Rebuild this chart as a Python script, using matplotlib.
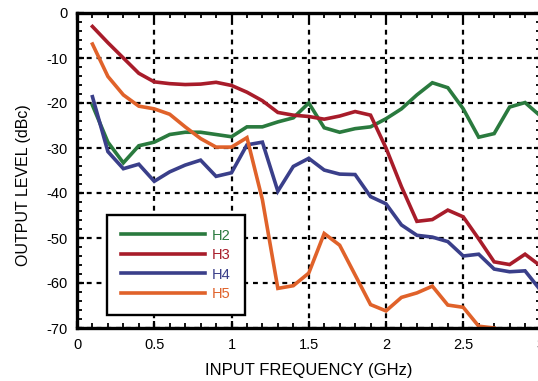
import matplotlib
matplotlib.use("Agg")
import matplotlib.pyplot as plt
from matplotlib.ticker import MultipleLocator

plt.rcParams['font.family'] = ['Liberation Sans', 'DejaVu Sans']
plt.rcParams['axes.unicode_minus'] = False

freq = [0.1, 0.2, 0.3, 0.4, 0.5, 0.6, 0.7, 0.8, 0.9, 1.0,
        1.1, 1.2, 1.3, 1.4, 1.5, 1.6, 1.7, 1.8, 1.9, 2.0,
        2.1, 2.2, 2.3, 2.4, 2.5, 2.6, 2.7, 2.8, 2.9, 3.0]

h2 = [-20.5, -28.7, -33.3, -29.5, -28.7, -27.0, -26.5, -26.5, -27.0, -27.5,
      -25.3, -25.3, -24.2, -23.3, -20.0, -25.5, -26.5, -25.7, -25.3, -23.5,
      -21.3, -18.2, -15.5, -16.6, -21.3, -27.6, -26.8, -20.9, -19.9, -22.9]

h3 = [-3.0, -6.6, -10.0, -13.4, -15.3, -15.7, -15.9, -15.8, -15.4, -16.1,
      -17.6, -19.5, -22.1, -22.7, -23.0, -23.6, -22.9, -21.9, -22.7, -30.0,
      -38.6, -46.3, -45.9, -43.8, -45.3, -50.2, -55.3, -55.9, -53.6, -56.2]

h4 = [-18.6, -30.8, -34.6, -33.6, -37.4, -35.3, -33.8, -32.7, -36.3, -35.5,
      -29.3, -28.7, -39.6, -34.1, -32.3, -34.9, -35.8, -35.9, -40.8, -42.4,
      -47.1, -49.4, -49.8, -50.8, -54.0, -53.6, -56.9, -57.5, -57.3, -61.6]

h5_freq = freq[:27]
h5 = [-6.9, -14.1, -18.2, -20.7, -21.3, -22.5, -25.3, -27.9, -29.8, -29.8,
      -27.7, -41.5, -61.2, -60.6, -57.8, -49.0, -51.6, -58.2, -64.8, -66.2,
      -63.2, -62.2, -60.7, -64.9, -65.4, -69.6, -70.0]

series_labels = ['H2', 'H3', 'H4', 'H5']
colors = ['#2a7a3e', '#a81c2a', '#3a3f8a', '#e0622a']

xticks = [0, 0.5, 1, 1.5, 2, 2.5, 3]
xtick_labels = ['0', '0.5', '1', '1.5', '2', '2.5', '3']
yticks = [0, -10, -20, -30, -40, -50, -60, -70]

fig = plt.figure(figsize=(5.38, 3.81), dpi=100)
ax = fig.add_axes([77/538, 53/381, 463.5/538, 315/381])

data = [(freq, h2), (freq, h3), (freq, h4), (h5_freq, h5)]
for (xs, ys), lab, c in zip(data, series_labels, colors):
    ax.plot(xs, ys, color=c, lw=2.6, label=lab, zorder=3,
            solid_joinstyle='miter')

ax.set_xlim(0, 3)
ax.set_ylim(-70, 0)
ax.set_xticks(xticks)
ax.set_xticklabels(xtick_labels)
ax.set_yticks(yticks)
ax.xaxis.set_minor_locator(MultipleLocator(0.1))
ax.yaxis.set_minor_locator(MultipleLocator(2))

ax.grid(True, which='major', color='black', linestyle=(0, (2.2, 2.2)),
        linewidth=1.6, zorder=1)
ax.set_axisbelow(True)

for s in ax.spines.values():
    s.set_linewidth(2.4)
    s.set_zorder(4)

ax.tick_params(which='both', direction='in', top=True, right=True,
               labelsize=10.5, colors='black')
ax.tick_params(which='major', length=5, width=1.6, pad=7)
ax.tick_params(which='minor', length=3.5, width=1.3)

ax.set_xlabel('INPUT FREQUENCY (GHz)', fontsize=12, labelpad=8)
ax.set_ylabel('OUTPUT LEVEL (dBc)', fontsize=11.5, labelpad=6)
ax.yaxis.set_label_coords(-0.100, 0.455)

leg = ax.legend(loc='lower left', bbox_to_anchor=(30/463.5, 13/315),
                borderaxespad=0, frameon=True, fancybox=False, framealpha=1,
                fontsize=10.5, handlelength=5.8, handletextpad=0.45,
                labelspacing=0.38, borderpad=0.95)
leg.get_frame().set_edgecolor('black')
leg.get_frame().set_linewidth(1.7)
leg.set_zorder(5)
for t, c in zip(leg.get_texts(), colors):
    t.set_color(c)

fig.savefig('out.png', dpi=100)
